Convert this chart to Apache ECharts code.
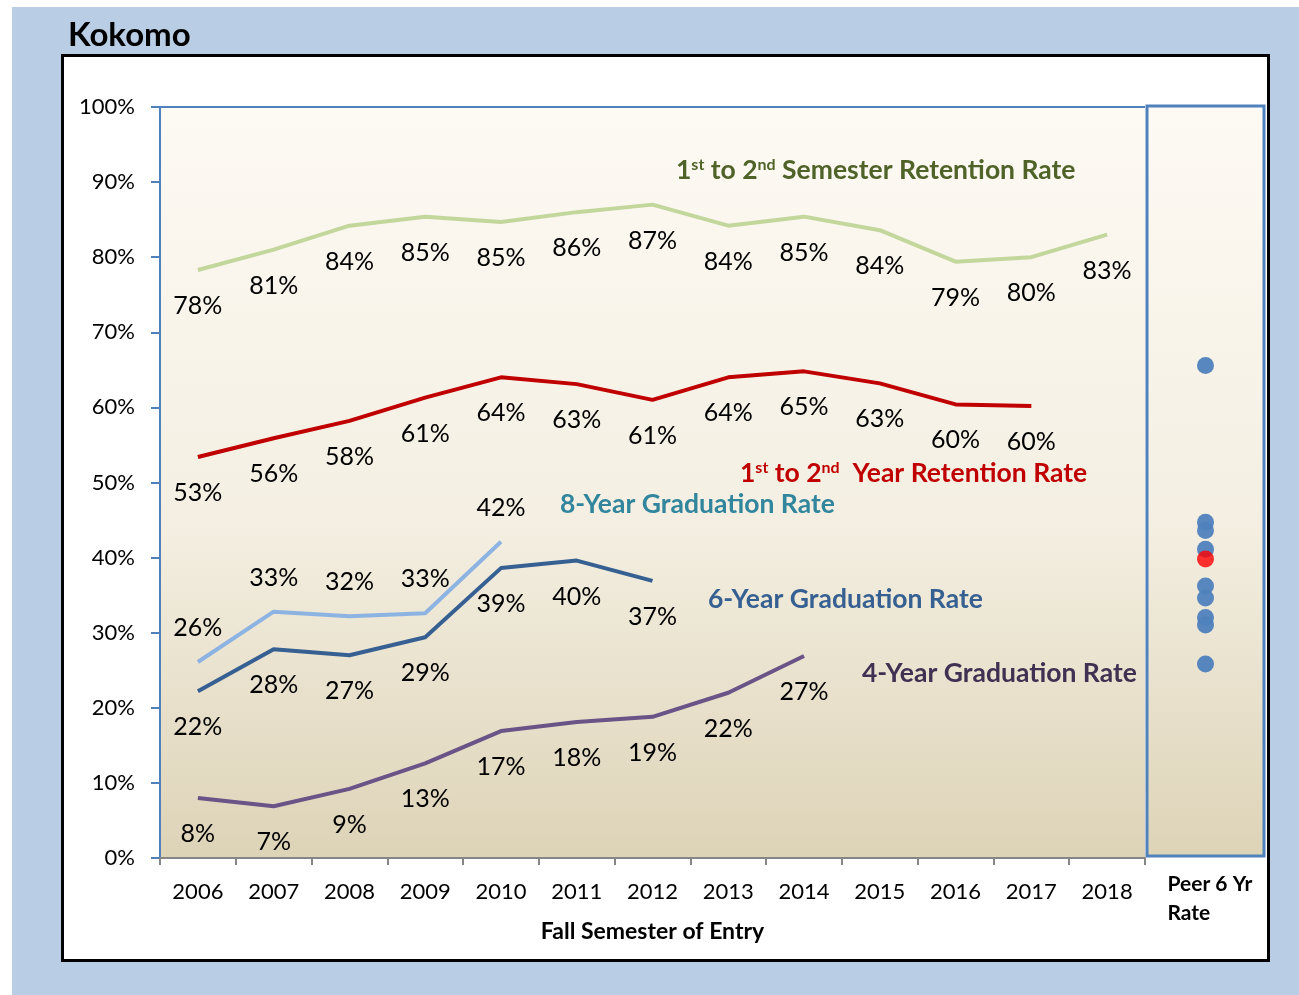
<!DOCTYPE html>
<html>
<head>
<meta charset="utf-8">
<script src="https://cdn.jsdelivr.net/npm/echarts@6/dist/echarts.min.js"></script>
<style>
  html, body { margin: 0; padding: 0; background: #fff; }
  .outer { position: absolute; left: 12px; top: 7px; right: 0; bottom: 0; background: #b9cde5; }
  .frame { position: absolute; left: 61px; top: 54px; width: 1203px; height: 902px; background: #fff; border: 3px solid #000; }
  #chart { position: absolute; left: 0; top: 0; width: 1299px; height: 995px; }
</style>
</head>
<body>
<div class="outer"></div>
<div class="frame"></div>
<div id="chart"></div>
<script>
// entry years
const years = ["2006", "2007", "2008", "2009", "2010", "2011", "2012", "2013", "2014", "2015", "2016", "2017", "2018"];

// rates in percent
const semesterRetention = [78.3, 81.0, 84.2, 85.4, 84.7, 86.0, 87.0, 84.2, 85.4, 83.6, 79.4, 80.0, 83.0];
const yearRetention = [53.4, 55.9, 58.2, 61.3, 64.0, 63.1, 61.0, 64.0, 64.8, 63.2, 60.4, 60.2];
const grad8 = [26.1, 32.8, 32.2, 32.6, 42.1];
const grad6 = [22.2, 27.8, 27.0, 29.4, 38.6, 39.6, 36.9];
const grad4 = [8.0, 6.9, 9.2, 12.6, 16.9, 18.1, 18.8, 22.0, 26.9];

// peer institutions 6 yr rates + Kokomo
const peerRates = [65.4, 44.5, 43.4, 40.9, 36.0, 34.4, 31.8, 30.8, 25.6];
const kokomoRate = [39.6];

const FONT = "Lato, 'Open Sans', sans-serif";

const chart = echarts.init(document.getElementById("chart"));

const plotBg = new echarts.graphic.LinearGradient(0, 0, 0, 1, [
  { offset: 0, color: "#fdfaf4" },
  { offset: 0.55, color: "#f4efe2" },
  { offset: 1, color: "#ddd3b7" },
]);

// line series helper
const lineSeries = (name, data, color, below) => ({
  name: name,
  type: "line",
  data: data,
  symbol: "circle",
  symbolSize: 1,
  itemStyle: { color: "rgba(0,0,0,0)" },
  lineStyle: { width: 4, color: color },
  z: 3,
  label: {
    show: true,
    position: below ? "bottom" : "top",
    distance: below ? 23 : 21,
    color: "#000",
    fontSize: 25,
    fontFamily: FONT,
    formatter: (p) => Math.round(p.value) + "%",
  },
  emphasis: { disabled: true },
});

const seriesText = (x, y, color, parts) => ({
  type: "text",
  left: x,
  top: y,
  style: {
    text: parts,
    fill: color,
    font: "bold 26.5px " + FONT,
    rich: {
      n: { fontSize: 26.5, fontWeight: "bold", fontFamily: FONT, fill: color },
      s: { fontSize: 16, fontWeight: "bold", fontFamily: FONT, fill: color, verticalAlign: "top", padding: [0, 0, 11, 0] },
    },
  },
  z: 10,
});

const option = {
  animation: false,
  title: {
    text: "Kokomo",
    left: 63,
    top: 14,
    textStyle: { fontSize: 33, fontWeight: "bold", color: "#000", fontFamily: FONT },
  },
  grid: [
    {
      left: 160, top: 107, width: 985, height: 751,
      show: true, backgroundColor: plotBg, borderWidth: 0,
    },
    {
      left: 1147, top: 106, width: 117, height: 750,
      show: true, backgroundColor: plotBg, borderColor: "#4f81bd", borderWidth: 3,
    },
  ],
  xAxis: [
    {
      type: "category",
      gridIndex: 0,
      data: years,
      boundaryGap: true,
      axisLine: { lineStyle: { color: "#868686", width: 2 } },
      axisTick: { show: true, length: 7, lineStyle: { color: "#868686", width: 2 } },
      axisLabel: { color: "#000", fontSize: 22, fontFamily: FONT, margin: 23 },
      name: "Fall Semester of Entry",
      nameLocation: "middle",
      nameGap: 62,
      nameTextStyle: { color: "#000", fontSize: 23, fontWeight: "bold", fontFamily: FONT },
    },
    {
      type: "category",
      gridIndex: 1,
      data: ["Peer"],
      axisLine: { show: false },
      axisTick: { show: false },
      axisLabel: {
        margin: 14,
        formatter: () => "{a|Peer 6 Yr}\n{a|Rate}",
        rich: {
          a: { width: 76, align: "left", fontSize: 21, fontWeight: "bold", fontFamily: FONT, color: "#000", lineHeight: 29 },
        },
      },
    },
  ],
  yAxis: [
    {
      type: "value",
      gridIndex: 0,
      min: 0, max: 100, interval: 10,
      axisLine: { show: true, lineStyle: { color: "#4f81bd", width: 2 } },
      axisTick: { show: true, length: 9, lineStyle: { color: "#4f81bd", width: 2 } },
      splitLine: { show: false },
      axisLabel: { color: "#000", fontSize: 22, fontFamily: FONT, margin: 25, formatter: "{value}%" },
    },
    {
      type: "value",
      gridIndex: 1,
      min: 0, max: 100,
      show: false,
    },
  ],
  series: [
    Object.assign(lineSeries("1st to 2nd Semester Retention Rate", semesterRetention, "#c3d69b", true), {
      markLine: {
        silent: true,
        symbol: "none",
        label: { show: false },
        lineStyle: { color: "#4f81bd", width: 2, type: "solid" },
        data: [{ yAxis: 100 }],
      },
    }),
    lineSeries("1st to 2nd Year Retention Rate", yearRetention, "#c00000", true),
    lineSeries("8-Year Graduation Rate", grad8, "#8db3e2", false),
    lineSeries("6-Year Graduation Rate", grad6, "#376092", true),
    lineSeries("4-Year Graduation Rate", grad4, "#6a5387", true),
    {
      name: "Peer",
      type: "scatter",
      xAxisIndex: 1,
      yAxisIndex: 1,
      data: peerRates.map((v) => ["Peer", v]),
      symbolSize: 17,
      itemStyle: { color: "#4f81bd", opacity: 0.95 },
      z: 4,
    },
    {
      name: "Kokomo",
      type: "scatter",
      xAxisIndex: 1,
      yAxisIndex: 1,
      data: kokomoRate.map((v) => ["Peer", v]),
      symbolSize: 17,
      itemStyle: { color: "#ff0000" },
      z: 5,
    },
  ],
  graphic: [
    seriesText(676, 157, "#4f6228", "{n|1}{s|st}{n| to 2}{s|nd}{n| Semester Retention Rate}"),
    seriesText(740, 460, "#c00000", "{n|1}{s|st}{n| to 2}{s|nd}{n|  Year Retention Rate}"),
    seriesText(560, 491, "#31859c", "{n|8-Year Graduation Rate}"),
    seriesText(708, 586, "#376092", "{n|6-Year Graduation Rate}"),
    seriesText(862, 660, "#403152", "{n|4-Year Graduation Rate}"),
  ],
};

chart.setOption(option);
</script>
</body>
</html>
